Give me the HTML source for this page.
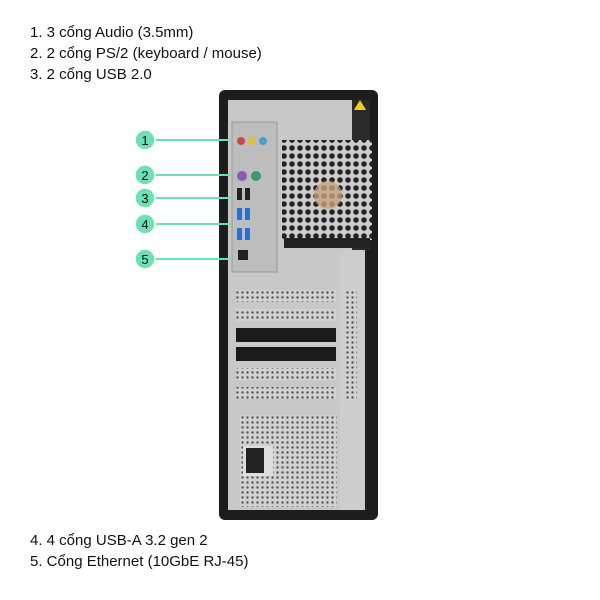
<!DOCTYPE html>
<html><head><meta charset="utf-8"><style>
body{margin:0;width:600px;height:600px;background:#fff;overflow:hidden;position:relative;font-family:"Liberation Sans","Noto Sans CJK SC",sans-serif}
.t{position:absolute;left:30px;font-size:15px;color:#111;line-height:21px}
</style></head><body>
<div class="t" style="top:22px">1. 3 cổng Audio (3.5mm)<br>2. 2 cổng PS/2 (keyboard / mouse)<br>3. 2 cổng USB 2.0</div>
<div class="t" style="top:530px">4. 4 cổng USB-A 3.2 gen 2<br>5. Cổng Ethernet (10GbE RJ-45)</div>
<svg width="600" height="600" style="position:absolute;left:0;top:0">
<defs>
<pattern id="h" width="5" height="5" patternUnits="userSpaceOnUse"><rect width="5" height="5" fill="#d2d2d2"/><circle cx="2.5" cy="2.5" r="1.2" fill="#555"/></pattern>
<pattern id="f" width="8" height="8" patternUnits="userSpaceOnUse"><rect width="8" height="8" fill="#ccc"/><circle cx="4" cy="4" r="2.8" fill="#222"/></pattern>
</defs>
<rect x="219" y="90" width="159" height="430" rx="6" fill="#1d1d1d"/>
<rect x="228" y="100" width="137" height="410" fill="#c8c8c8"/>
<rect x="352" y="100" width="18" height="150" fill="#2a2a2a"/>
<polygon points="354,110 366,110 360,100" fill="#f2d021"/>
<rect x="340" y="250" width="24" height="260" fill="#cdcdcd"/>
<rect x="345" y="290" width="12" height="110" fill="url(#h)"/>
<rect x="232" y="122" width="45" height="150" fill="#bdbdbd" stroke="#999"/>
<circle cx="241" cy="141" r="4" fill="#c84848"/><circle cx="252" cy="141" r="4" fill="#d9c33a"/><circle cx="263" cy="141" r="4" fill="#4aa0c8"/>
<circle cx="242" cy="176" r="5" fill="#8a5ab5"/><circle cx="256" cy="176" r="5" fill="#3a9a6a"/>
<rect x="237" y="188" width="5" height="12" fill="#222"/><rect x="245" y="188" width="5" height="12" fill="#222"/>
<rect x="237" y="208" width="5" height="12" fill="#2a6ed0"/><rect x="245" y="208" width="5" height="12" fill="#2a6ed0"/>
<rect x="237" y="228" width="5" height="12" fill="#2a6ed0"/><rect x="245" y="228" width="5" height="12" fill="#2a6ed0"/>
<rect x="238" y="250" width="10" height="10" fill="#222"/>
<rect x="282" y="140" width="90" height="100" fill="url(#f)"/>
<circle cx="328" cy="195" r="14" fill="#c8a27a" opacity=".8"/>
<rect x="284" y="238" width="86" height="10" fill="#222"/>
<g fill="url(#h)">
<rect x="236" y="290" width="100" height="12"/><rect x="236" y="309" width="100" height="12"/>
<rect x="236" y="368" width="100" height="12"/><rect x="236" y="387" width="100" height="12"/>
</g>
<rect x="236" y="328" width="100" height="14" fill="#1a1a1a"/>
<rect x="236" y="347" width="100" height="14" fill="#1a1a1a"/>
<rect x="240" y="415" width="97" height="92" fill="url(#h)"/>
<rect x="243" y="446" width="30" height="30" fill="#ddd"/>
<rect x="246" y="448" width="18" height="25" fill="#222"/>
<g stroke="#6fe0b4" stroke-width="2">
<line x1="150" y1="140" x2="232" y2="140"/><line x1="150" y1="175" x2="232" y2="175"/>
<line x1="150" y1="198" x2="232" y2="198"/><line x1="150" y1="224" x2="232" y2="224"/>
<line x1="150" y1="259" x2="232" y2="259"/>
</g>
<g fill="#6fe0b4" stroke="#fff" stroke-width="1.5">
<circle cx="145" cy="140" r="10"/><circle cx="145" cy="175" r="10"/><circle cx="145" cy="198" r="10"/><circle cx="145" cy="224" r="10"/><circle cx="145" cy="259" r="10"/>
</g>
<g font-family="Liberation Sans" font-size="13" text-anchor="middle" fill="#111">
<text x="145" y="145">1</text><text x="145" y="180">2</text><text x="145" y="203">3</text><text x="145" y="229">4</text><text x="145" y="264">5</text>
</g>
</svg>
</body></html>
